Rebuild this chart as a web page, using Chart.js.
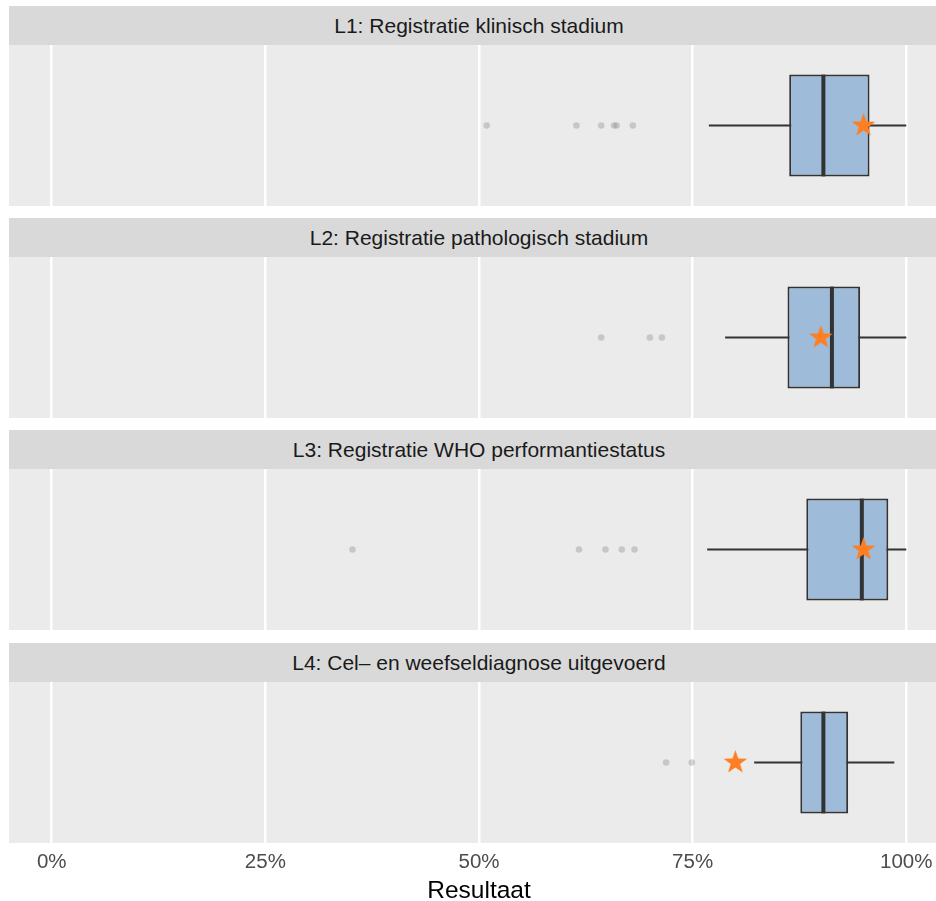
<!DOCTYPE html>
<html lang="nl">
<head>
<meta charset="UTF-8">
<title>Resultaat per indicator</title>
<script src="https://cdn.jsdelivr.net/npm/chart.js"></script>
<style>
    html, body {
        margin: 0;
        padding: 0;
        width: 936px;
        height: 901px;
        overflow: hidden;
        background: #fff;
    }
    .strip {
        position: absolute;
        left: 9px;
        width: 940px;
        height: 39px;
        font: 21px 'Liberation Sans', Arial, sans-serif;
        line-height: 39px;
        background: #d9d9d9;
        color: #1a1a1a;
        text-align: center;
        white-space: nowrap;
    }
    .panel {
        position: absolute;
        left: 9px;
    }
</style>
</head>
<body>
<div id="facets"></div>
<script>
// values, in percent
const facetTitles = [
    'L1: Registratie klinisch stadium',
    'L2: Registratie pathologisch stadium',
    'L3: Registratie WHO performantiestatus',
    'L4: Cel\u2013 en weefseldiagnose uitgevoerd'
];
const whiskerLow  = [76.9, 78.8, 76.7, 82.2];
const boxLow      = [86.3, 86.1, 88.3, 87.6];
const medians     = [90.3, 91.3, 94.8, 90.3];
const boxHigh     = [95.7, 94.6, 97.9, 93.2];
const whiskerHigh = [100, 100, 100, 98.6];
const outliers = [
    [50.9, 61.4, 64.3, 65.8, 66.1, 68.0],
    [64.3, 70.0, 71.4],
    [35.2, 61.7, 64.8, 66.7, 68.2],
    [71.9, 74.9]
];
const targets = [95.0, 90.0, 95.0, 80.0];
const xTicks = [0, 25, 50, 75, 100];

// layout
const stripTops = [6, 218, 430, 643];
const stripHeight = 39;
const panelHeight = 161;
const axisHeight = 60;

Chart.defaults.font.family = "'Liberation Sans', Arial, sans-serif";

function makeStar(r, color) {
    const c = document.createElement('canvas');
    const size = Math.ceil(r * 2 + 2);
    c.width = c.height = size;
    const g = c.getContext('2d');
    g.translate(size / 2, size / 2);
    g.beginPath();
    for (let k = 0; k < 10; k++) {
        const rad = k % 2 ? r * 0.4 : r;
        const a = -Math.PI / 2 + k * Math.PI / 5;
        g.lineTo(rad * Math.cos(a), rad * Math.sin(a));
    }
    g.closePath();
    g.fillStyle = color;
    g.fill();
    return c;
}
const starImg = makeStar(12.4, '#fd7f22');

// panel background, whiskers and median line
const boxParts = {
    id: 'boxParts',
    beforeDraw(chart) {
        const a = chart.chartArea;
        const ctx = chart.ctx;
        ctx.save();
        ctx.fillStyle = '#ebebeb';
        ctx.fillRect(a.left, a.top, a.right - a.left, a.bottom - a.top);
        ctx.restore();
    },
    beforeDatasetsDraw(chart, args, opts) {
        const i = opts.facet;
        const x = chart.scales.x;
        const bar = chart.getDatasetMeta(2).data[0];
        const ctx = chart.ctx;
        ctx.save();
        ctx.strokeStyle = '#333333';
        ctx.lineWidth = 2;
        ctx.beginPath();
        ctx.moveTo(x.getPixelForValue(whiskerLow[i]), bar.y);
        ctx.lineTo(x.getPixelForValue(whiskerHigh[i]), bar.y);
        ctx.stroke();
        ctx.restore();
    },
    afterDatasetDraw(chart, args, opts) {
        if (args.index !== 2) return;
        const i = opts.facet;
        const x = chart.scales.x;
        const bar = args.meta.data[0];
        const px = x.getPixelForValue(medians[i]);
        const ctx = chart.ctx;
        ctx.save();
        ctx.strokeStyle = '#333333';
        ctx.lineWidth = 4;
        ctx.beginPath();
        ctx.moveTo(px, bar.y - bar.height / 2);
        ctx.lineTo(px, bar.y + bar.height / 2);
        ctx.stroke();
        ctx.restore();
    }
};

const host = document.getElementById('facets');

facetTitles.forEach((title, i) => {
    const last = i === facetTitles.length - 1;

    const strip = document.createElement('div');
    strip.className = 'strip';
    strip.style.top = stripTops[i] + 'px';
    strip.textContent = title;
    host.appendChild(strip);

    const canvas = document.createElement('canvas');
    canvas.className = 'panel';
    canvas.width = 940;
    canvas.height = panelHeight + (last ? axisHeight : 0);
    canvas.style.top = (stripTops[i] + stripHeight) + 'px';
    host.appendChild(canvas);

    new Chart(canvas, {
        type: 'bar',
        data: {
            labels: [title],
            datasets: [{
                type: 'scatter',
                data: [{ x: targets[i], y: title }],
                pointStyle: starImg,
                pointRadius: 12,
                pointHoverRadius: 12
            }, {
                type: 'scatter',
                data: outliers[i].map(v => ({ x: v, y: title })),
                pointRadius: 3.3,
                pointHoverRadius: 3.3,
                backgroundColor: 'rgba(127,127,127,0.33)',
                borderWidth: 0
            }, {
                data: [[boxLow[i], boxHigh[i]]],
                backgroundColor: '#9ebbd9',
                borderColor: '#333333',
                borderWidth: 2,
                borderSkipped: false,
                barPercentage: 0.632,
                categoryPercentage: 1
            }]
        },
        options: {
            indexAxis: 'y',
            responsive: false,
            animation: false,
            devicePixelRatio: 1,
            layout: { padding: 0, autoPadding: false },
            plugins: {
                legend: { display: false },
                tooltip: { enabled: false },
                boxParts: { facet: i }
            },
            scales: {
                x: {
                    type: 'linear',
                    min: -5,
                    max: 105,
                    afterBuildTicks: s => { s.ticks = xTicks.map(v => ({ value: v })); },
                    afterFit: s => { s.height = last ? axisHeight : 0; },
                    grid: { color: '#ffffff', lineWidth: 2.5, drawTicks: false },
                    border: { display: false },
                    ticks: {
                        display: last,
                        padding: 7,
                        color: '#4d4d4d',
                        font: { size: 20.5 },
                        callback: v => v + '%'
                    },
                    title: {
                        display: last,
                        text: 'Resultaat',
                        color: '#000000',
                        font: { size: 24.5, lineHeight: 1 },
                        padding: 0
                    }
                },
                y: {
                    type: 'category',
                    display: false,
                    offset: true
                }
            }
        },
        plugins: [boxParts]
    });
});
</script>
</body>
</html>
